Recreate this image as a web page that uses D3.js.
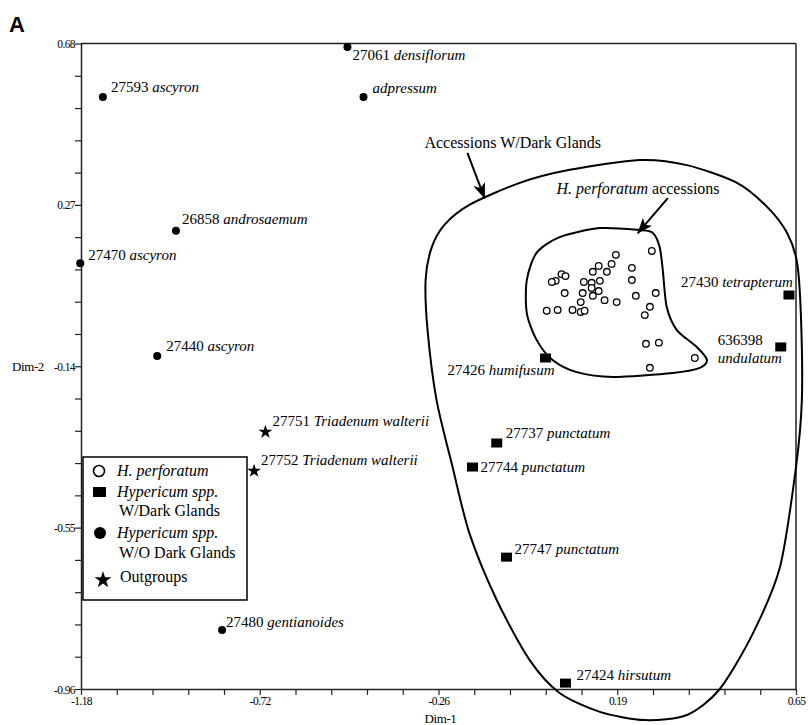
<!DOCTYPE html>
<html>
<head>
<meta charset="utf-8">
<script src="https://cdnjs.cloudflare.com/ajax/libs/d3/7.8.5/d3.min.js"></script>
<style>
  body { margin: 0; background: #fff; }
  svg { display: block; font-family: "Liberation Serif", "Times New Roman", serif; }
</style>
</head>
<body>
<div id="chart"></div>
<script>
// axis tick labels
var xTickLabels = ["-1.18", "-0.72", "-0.26", "0.19", "0.65"];
var yTickLabels = ["-0.96", "-0.55", "-0.14", "0.27", "0.68"];

// Hypericum spp. without dark glands
var woGlands = [
    {id: "27061", sp: "densiflorum",  d1: -0.498, d2: 0.671},
    {id: "",      sp: "adpressum",    d1: -0.457, d2: 0.544},
    {id: "27593", sp: "ascyron",      d1: -1.124, d2: 0.544},
    {id: "26858", sp: "androsaemum",  d1: -0.937, d2: 0.204},
    {id: "27470", sp: "ascyron",      d1: -1.182, d2: 0.122},
    {id: "27440", sp: "ascyron",      d1: -0.985, d2: -0.114},
    {id: "27480", sp: "gentianoides", d1: -0.819, d2: -0.810}
];

// Hypericum spp. with dark glands
var wGlands = [
    {id: "27737",  sp: "punctatum",   d1: -0.116, d2: -0.335},
    {id: "27744",  sp: "punctatum",   d1: -0.178, d2: -0.396},
    {id: "27747",  sp: "punctatum",   d1: -0.091, d2: -0.625},
    {id: "27424",  sp: "hirsutum",    d1: 0.060,  d2: -0.945},
    {id: "27430",  sp: "tetrapterum", d1: 0.632,  d2: 0.041},
    {id: "636398", sp: "undulatum",   d1: 0.611,  d2: -0.091},
    {id: "27426",  sp: "humifusum",   d1: 0.009,  d2: -0.119}
];

var outgroups = [
    {id: "27751", sp: "Triadenum walterii", d1: -0.708, d2: -0.307},
    {id: "27752", sp: "Triadenum walterii", d1: -0.737, d2: -0.406}
];

// H. perforatum accessions [Dim-1, Dim-2]
var perforatum = [
    [0.281, 0.153], [0.189, 0.143], [0.178, 0.120], [0.145, 0.115], [0.166, 0.100],
    [0.130, 0.100], [0.230, 0.110], [0.230, 0.079], [0.050, 0.094], [0.060, 0.089],
    [0.035, 0.077], [0.025, 0.074], [0.107, 0.074], [0.127, 0.072], [0.148, 0.077],
    [0.127, 0.059], [0.104, 0.046], [0.145, 0.051], [0.130, 0.039], [0.058, 0.046],
    [0.291, 0.046], [0.240, 0.039], [0.160, 0.028], [0.191, 0.023], [0.099, 0.023],
    [0.276, 0.011], [0.263, -0.010], [0.012, 0.001], [0.040, 0.003], [0.078, 0.003],
    [0.099, -0.002], [0.109, 0.001], [0.266, -0.083], [0.299, -0.080], [0.391, -0.119],
    [0.276, -0.144]
];

// hand drawn outlines (data units)
var outerHull = [
    [0.250, 0.384], [0.371, 0.371], [0.499, 0.326], [0.576, 0.265], [0.627, 0.199],
    [0.653, 0.122], [0.663, -0.023], [0.665, -0.226], [0.650, -0.396], [0.609, -0.650],
    [0.540, -0.818], [0.455, -0.960], [0.371, -1.026], [0.263, -1.039], [0.148, -1.018],
    [0.045, -0.970], [-0.032, -0.886], [-0.116, -0.734], [-0.186, -0.564], [-0.229, -0.396],
    [-0.270, -0.226], [-0.293, -0.048], [-0.298, 0.079], [-0.283, 0.160], [-0.250, 0.219],
    [-0.186, 0.270], [-0.057, 0.326], [0.071, 0.359]
];
var innerHull = [
    [0.250, 0.206], [0.283, 0.199], [0.301, 0.163], [0.309, 0.105], [0.319, 0.011],
    [0.345, -0.048], [0.396, -0.091], [0.422, -0.124], [0.404, -0.144], [0.335, -0.157],
    [0.181, -0.167], [0.089, -0.155], [0.027, -0.124], [-0.014, -0.073], [-0.039, -0.005],
    [-0.039, 0.079], [-0.014, 0.148], [0.045, 0.188], [0.148, 0.211]
];

// label offsets in px: [dx, dy, anchor]
var labelOffset = {
    "densiflorum": [5, 13], "adpressum": [9, -4], "27593": [8, -5], "26858": [6, -7],
    "27470": [8, -3], "27440": [9, -5], "27480": [4, -3], "27751": [7, -6], "27752": [7, -6],
    "27737": [9, -5], "27744": [8, 5], "27747": [8, -3], "27424": [11, -3],
    "27430": [4, -8, "end"], "27426": [9, 17, "end"]
};

var W = 808, H = 725;
var margin = {left: 81, right: 12, top: 43.5, bottom: 36};

var x = d3.scaleLinear().domain([-1.18, 0.65]).range([margin.left, W - margin.right]);
var y = d3.scaleLinear().domain([-0.96, 0.68]).range([H - margin.bottom, margin.top]);

var svg = d3.select('#chart').append('svg')
    .attr('width', W)
    .attr('height', H);

var defs = svg.append('defs');
defs.append('marker')
    .attr('id', 'arrow')
    .attr('markerUnits', 'userSpaceOnUse')
    .attr('viewBox', '0 0 16 12')
    .attr('refX', 15)
    .attr('refY', 6)
    .attr('markerWidth', 16)
    .attr('markerHeight', 12)
    .attr('orient', 'auto')
    .append('path')
    .attr('d', 'M0,0 L16,6 L0,12 L4,6 Z')
    .attr('fill', '#000');

// panel letter
svg.append('text')
    .attr('x', 9)
    .attr('y', 32)
    .style('font-family', '"Liberation Sans", Arial, sans-serif')
    .style('font-weight', 'bold')
    .style('font-size', '22px')
    .text('A');

// axes
var nTicks = 20;
var xTicks = d3.range(nTicks + 1).map(function(i){ return -1.18 + i * 1.83 / nTicks; });
var yTicks = d3.range(nTicks + 1).map(function(i){ return -0.96 + i * 1.64 / nTicks; });

var xAxis = svg.append('g')
    .attr('transform', 'translate(0,' + y(-0.96) + ')')
    .call(d3.axisBottom(x).tickValues(xTicks).tickSize(6).tickSizeOuter(0)
        .tickFormat(function(d, i){ return i % 5 == 0 ? xTickLabels[i / 5] : ''; }));

var yAxis = svg.append('g')
    .attr('transform', 'translate(' + x(-1.18) + ',0)')
    .call(d3.axisLeft(y).tickValues(yTicks).tickSize(6).tickSizeOuter(0)
        .tickFormat(function(d, i){ return i % 5 == 0 ? yTickLabels[i / 5] : ''; }));

[xAxis, yAxis].forEach(function(a){
    a.select('.domain').attr('stroke', '#222').attr('stroke-width', 1.5);
    a.selectAll('.tick line').attr('stroke', '#222').attr('stroke-width', 1.2);
    a.selectAll('.tick text')
        .attr('fill', '#000')
        .style('font-family', '"Liberation Serif", serif')
        .style('font-size', '11.5px')
        .style('letter-spacing', '-0.6px');
});
xAxis.selectAll('.tick text').attr('y', 8);
yAxis.selectAll('.tick text').attr('x', -6).attr('dy', '0.35em');

// frame top / right
svg.append('line')
    .attr('x1', x(-1.18)).attr('x2', x(0.65))
    .attr('y1', y(0.68)).attr('y2', y(0.68))
    .attr('stroke', '#222').attr('stroke-width', 1.5);
svg.append('line')
    .attr('x1', x(0.65)).attr('x2', x(0.65))
    .attr('y1', y(0.68)).attr('y2', y(-0.96))
    .attr('stroke', '#222').attr('stroke-width', 1.5);

svg.append('text')
    .attr('x', x(-0.26))
    .attr('y', H - 2)
    .attr('text-anchor', 'middle')
    .style('font-size', '13px')
    .style('letter-spacing', '-0.4px')
    .text('Dim-1');

svg.append('text')
    .attr('x', 12)
    .attr('y', y(-0.14))
    .attr('dy', '0.35em')
    .style('font-size', '13px')
    .style('letter-spacing', '-0.4px')
    .text('Dim-2');

// outlines
var hullLine = d3.line()
    .curve(d3.curveCardinalClosed.tension(0.2))
    .x(function(d){ return x(d[0]); })
    .y(function(d){ return y(d[1]); });

[outerHull, innerHull].forEach(function(h){
    svg.append('path')
        .datum(h)
        .attr('d', hullLine)
        .attr('fill', 'none')
        .attr('stroke', '#000')
        .attr('stroke-width', 2);
});

// annotations
var notes = [
    {from: [-0.191, 0.402], to: [-0.147, 0.287]},
    {from: [0.322, 0.287], to: [0.245, 0.198]}
];
notes.forEach(function(n){
    svg.append('line')
        .attr('x1', x(n.from[0])).attr('y1', y(n.from[1]))
        .attr('x2', x(n.to[0])).attr('y2', y(n.to[1]))
        .attr('stroke', '#000')
        .attr('stroke-width', 2)
        .attr('marker-end', 'url(#arrow)');
});

svg.append('text')
    .attr('x', x(-0.075))
    .attr('y', y(0.415))
    .attr('text-anchor', 'middle')
    .style('font-size', '16px')
    .text('Accessions W/Dark Glands');

var t2 = svg.append('text')
    .attr('x', x(0.037))
    .attr('y', y(0.298))
    .style('font-size', '16px');
t2.append('tspan').style('font-style', 'italic').text('H. perforatum');
t2.append('tspan').text(' accessions');

// points
svg.selectAll('.perf')
    .data(perforatum)
    .enter()
    .append('circle')
    .attr('cx', function(d){ return x(d[0]); })
    .attr('cy', function(d){ return y(d[1]); })
    .attr('r', 3.3)
    .attr('fill', '#fff')
    .attr('stroke', '#000')
    .attr('stroke-width', 1.3);

svg.selectAll('.wo')
    .data(woGlands)
    .enter()
    .append('circle')
    .attr('cx', function(d){ return x(d.d1); })
    .attr('cy', function(d){ return y(d.d2); })
    .attr('r', 4)
    .attr('fill', '#000');

svg.selectAll('.wg')
    .data(wGlands)
    .enter()
    .append('rect')
    .attr('x', function(d){ return x(d.d1) - 5.5; })
    .attr('y', function(d){ return y(d.d2) - 4.5; })
    .attr('width', 11)
    .attr('height', 9)
    .attr('fill', '#000');

var star = d3.symbol().type(d3.symbolStar).size(60);
svg.selectAll('.og')
    .data(outgroups)
    .enter()
    .append('path')
    .attr('d', star)
    .attr('transform', function(d){ return 'translate(' + x(d.d1) + ',' + y(d.d2) + ')'; })
    .attr('fill', '#000');

// point labels
function addLabel(d){
    var key = d.id == "" || d.id == "27061" ? d.sp : d.id;
    var px = x(d.d1), py = y(d.d2);
    if(d.id == "636398"){
        svg.append('text').attr('x', px - 63).attr('y', py - 2)
            .style('font-size', '15px').text(d.id);
        svg.append('text').attr('x', px - 63).attr('y', py + 16)
            .style('font-size', '15px').style('font-style', 'italic').text(d.sp);
        return;
    }
    var off = labelOffset[key];
    var t = svg.append('text')
        .attr('x', px + off[0])
        .attr('y', py + off[1])
        .attr('text-anchor', off[2] || 'start')
        .style('font-size', '15px');
    if(d.id != "") t.append('tspan').text(d.id + ' ');
    t.append('tspan').style('font-style', 'italic').text(d.sp);
}
woGlands.forEach(addLabel);
wGlands.forEach(addLabel);
outgroups.forEach(addLabel);

// legend
var lg = svg.append('g');
lg.append('rect')
    .attr('x', 83).attr('y', 457)
    .attr('width', 164).attr('height', 143)
    .attr('fill', '#fff')
    .attr('stroke', '#000')
    .attr('stroke-width', 1.5);

lg.append('circle').attr('cx', 99).attr('cy', 471).attr('r', 5.5)
    .attr('fill', '#fff').attr('stroke', '#000').attr('stroke-width', 1.6);
lg.append('rect').attr('x', 93).attr('y', 487).attr('width', 13).attr('height', 10)
    .attr('fill', '#000');
lg.append('circle').attr('cx', 100).attr('cy', 533).attr('r', 6)
    .attr('fill', '#000');
lg.append('path').attr('d', d3.symbol().type(d3.symbolStar).size(90))
    .attr('transform', 'translate(103,580)')
    .attr('fill', '#000');

var legendText = [
    {t: 'H. perforatum', it: true, x: 117, y: 476},
    {t: 'Hypericum spp.', it: true, x: 117, y: 497},
    {t: 'W/Dark Glands', it: false, x: 119, y: 516},
    {t: 'Hypericum spp.', it: true, x: 117, y: 538},
    {t: 'W/O Dark Glands', it: false, x: 119, y: 558},
    {t: 'Outgroups', it: false, x: 120, y: 582}
];
lg.selectAll('.lt')
    .data(legendText)
    .enter()
    .append('text')
    .attr('x', function(d){ return d.x; })
    .attr('y', function(d){ return d.y; })
    .style('font-size', '16px')
    .style('font-style', function(d){ return d.it ? 'italic' : 'normal'; })
    .text(function(d){ return d.t; });
</script>
</body>
</html>
